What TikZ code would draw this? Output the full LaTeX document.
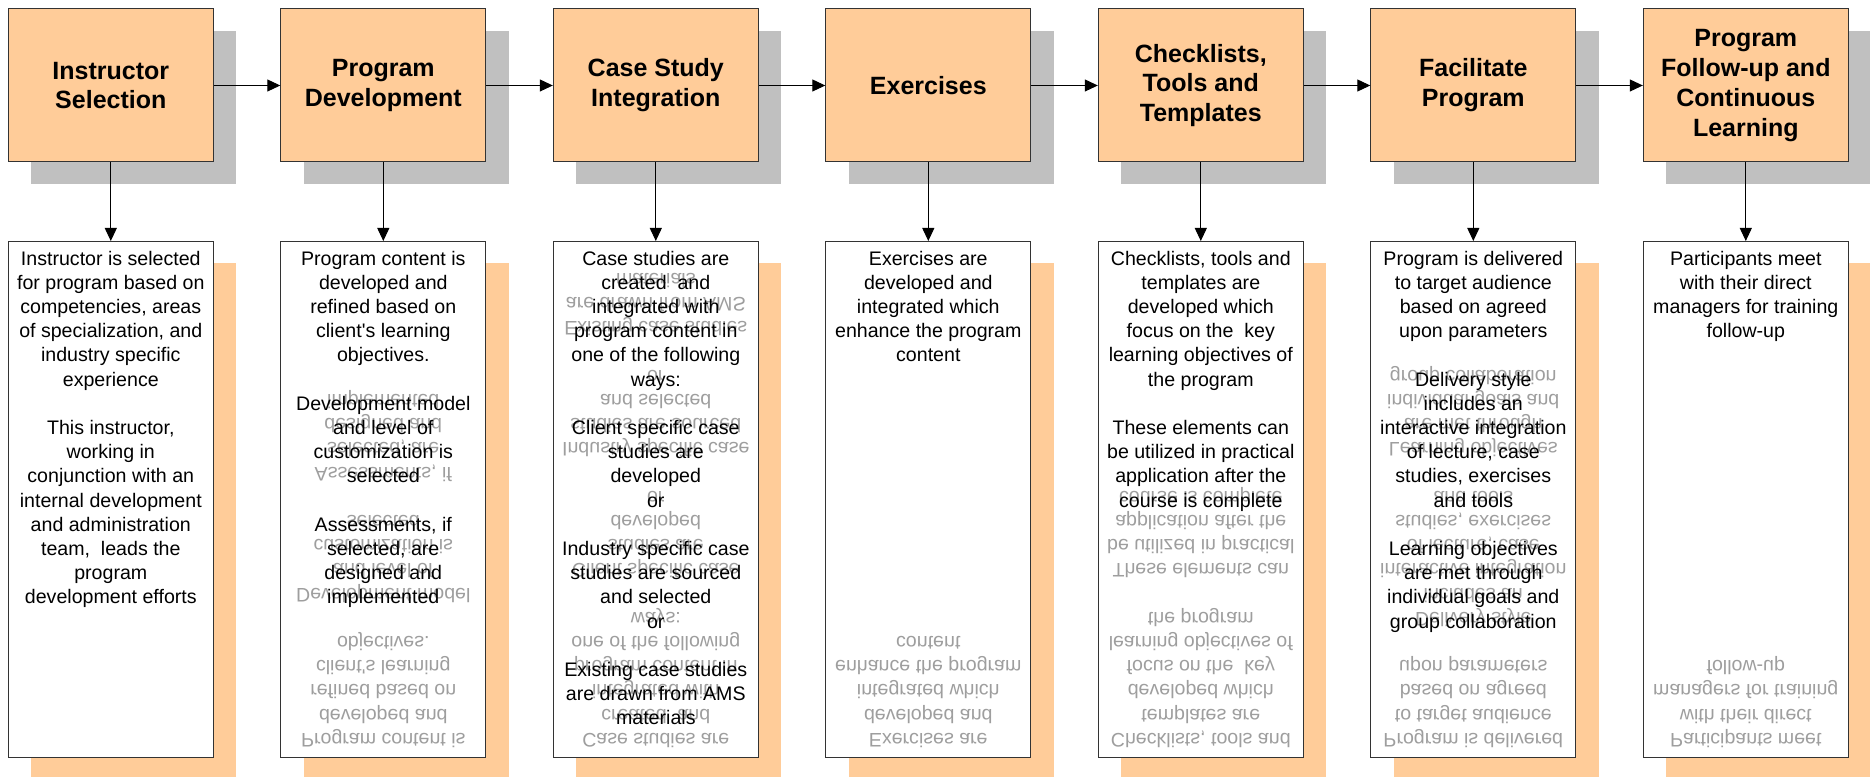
\documentclass[tikz,border=0pt]{standalone}
\usepackage{fontspec}
\setmainfont{Liberation Sans}
\usetikzlibrary{arrows.meta,shadows}
\definecolor{peach}{HTML}{FFCC99}
\definecolor{shgray}{HTML}{C0C0C0}
\definecolor{edgecol}{HTML}{333333}
\newcommand\TxtA{Instructor is selected\\ for program based on\\ competencies, areas\\ of specialization, and\\ industry specific\\ experience\\ \\ This instructor,\\ working in\\ conjunction with an\\ internal development\\ and administration\\ team,~ leads the\\ program\\ development efforts}
\newcommand\TxtB{Program content is\\ developed and\\ refined based on\\ client\textquotesingle s learning\\ objectives.\\ \\ Development model\\ and level of\\ customization is\\ selected\\ \\ Assessments, if\\ selected, are\\ designed and\\ implemented}
\newcommand\TxtC{Case studies are\\ created~ and\\ integrated with\\ program content in\\ one of the following\\ ways:\\ \\ Client specific case\\ studies are\\ developed\\ or\\ \\ Industry specific case\\ studies are sourced\\ and selected\\ or\\ \\ Existing case studies\\ are drawn from AMS\\ materials}
\newcommand\TxtD{Exercises are\\ developed and\\ integrated which\\ enhance the program\\ content}
\newcommand\TxtE{Checklists, tools and\\ templates are\\ developed which\\ focus on the~ key\\ learning objectives of\\ the program\\ \\ These elements can\\ be utilized in practical\\ application after the\\ course is complete}
\newcommand\TxtF{Program is delivered\\ to target audience\\ based on agreed\\ upon parameters\\ \\ Delivery style\\ includes an\\ interactive integration\\ of lecture, case\\ studies, exercises\\ and tools\\ \\ Learning objectives\\ are met through\\ individual goals and\\ group collaboration}
\newcommand\TxtG{Participants meet\\ with their direct\\ managers for training\\ follow-up}
\newcommand\Lines[1]{\begin{tabular}{@{}c@{}}#1\end{tabular}}
\newcommand\Flipped[1]{\scalebox{1}[-1]{\begin{tabular}{@{}c@{}}#1\end{tabular}}}
\begin{document}
\begin{tikzpicture}[x=1pt,y=1pt,
  stage/.style={draw=edgecol, line width=1pt, fill=peach, minimum width=205pt,
    minimum height=153pt, inner sep=0pt, align=center,
    font=\fontsize{25}{29.8}\selectfont\bfseries,
    general shadow={fill=shgray, shadow xshift=23pt, shadow yshift=-22pt}},
  detail/.style={draw=edgecol, line width=1pt, fill=white, minimum width=205pt,
    minimum height=515.5pt, inner sep=0pt,
    general shadow={fill=peach, shadow xshift=23pt, shadow yshift=-22pt}},
  bodytext/.style={anchor=north, inner sep=0pt, font=\fontsize{19.6}{24.2}\selectfont},
  ghosttext/.style={anchor=south, inner sep=0pt, text=black!38, font=\fontsize{19.6}{24.2}\selectfont},
  flow/.style={draw=black, line width=1pt, -{Triangle[length=13pt,width=12pt]}}]
\useasboundingbox (0,0) rectangle (1870,776);
\clip (0,0) rectangle (1870,776);
\fill[white] (0,0) rectangle (1870,776);

% top stage boxes
\node[stage] (t1) at (110.8,690.5) {Instructor\\Selection};
\node[stage] (t2) at (383.3,690.5) {Program\\Development};
\node[stage] (t3) at (655.8,690.5) {Case Study\\Integration};
\node[stage] (t4) at (928.3,690.5) {Exercises};
\node[stage] (t5) at (1200.8,690.5) {Checklists,\\Tools and\\Templates};
\node[stage] (t6) at (1473.3,690.5) {Facilitate\\Program};
\node[stage] (t7) at (1745.8,690.5) {Program\\Follow-up and\\Continuous\\Learning};

% lower detail boxes
\node[detail] (l1) at (110.8,276.75) {};
\node[detail] (l2) at (383.3,276.75) {};
\node[detail] (l3) at (655.8,276.75) {};
\node[detail] (l4) at (928.3,276.75) {};
\node[detail] (l5) at (1200.8,276.75) {};
\node[detail] (l6) at (1473.3,276.75) {};
\node[detail] (l7) at (1745.8,276.75) {};

% mirrored ghost texts
\node[ghosttext] (g2) at ([yshift=7.06pt]l2.south) {\Flipped{\TxtB}};
\node[ghosttext] (g3) at ([yshift=7.06pt]l3.south) {\Flipped{\TxtC}};
\node[ghosttext] (g4) at ([yshift=7.06pt]l4.south) {\Flipped{\TxtD}};
\node[ghosttext] (g5) at ([yshift=7.06pt]l5.south) {\Flipped{\TxtE}};
\node[ghosttext] (g6) at ([yshift=7.06pt]l6.south) {\Flipped{\TxtF}};
\node[ghosttext] (g7) at ([yshift=7.06pt]l7.south) {\Flipped{\TxtG}};

% body texts
\node[bodytext] (b1) at ([yshift=-7.06pt]l1.north) {\Lines{\TxtA}};
\node[bodytext] (b2) at ([yshift=-7.06pt]l2.north) {\Lines{\TxtB}};
\node[bodytext] (b3) at ([yshift=-7.06pt]l3.north) {\Lines{\TxtC}};
\node[bodytext] (b4) at ([yshift=-7.06pt]l4.north) {\Lines{\TxtD}};
\node[bodytext] (b5) at ([yshift=-7.06pt]l5.north) {\Lines{\TxtE}};
\node[bodytext] (b6) at ([yshift=-7.06pt]l6.north) {\Lines{\TxtF}};
\node[bodytext] (b7) at ([yshift=-7.06pt]l7.north) {\Lines{\TxtG}};

% connectors
\foreach \a/\b in {t1/t2,t2/t3,t3/t4,t4/t5,t5/t6,t6/t7}
  \draw[flow] (\a) -- (\b);
\foreach \i in {1,...,7}
  \draw[flow] (t\i) -- (l\i);
\end{tikzpicture}
\end{document}
